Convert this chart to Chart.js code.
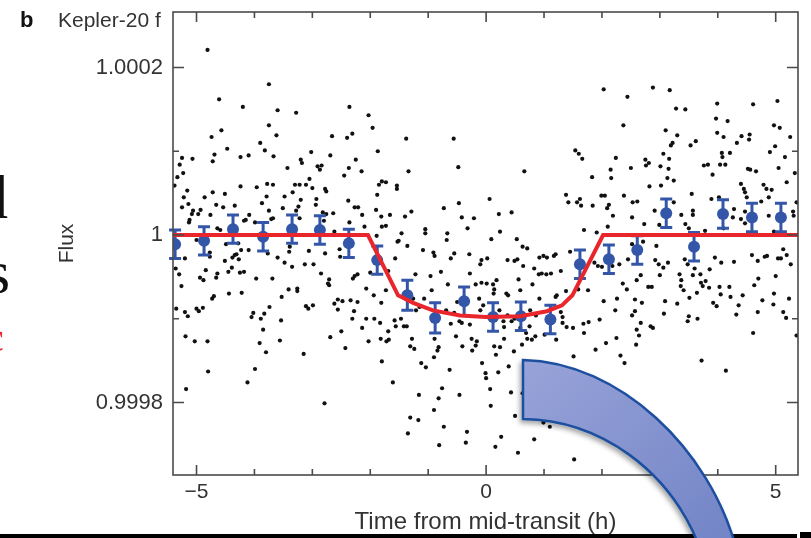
<!DOCTYPE html>
<html>
<head>
<meta charset="utf-8">
<title>Kepler-20 f</title>
<script src="https://cdn.jsdelivr.net/npm/chart.js@4.4.1/dist/chart.umd.min.js"></script>
<style>
  html, body { margin: 0; padding: 0; background: #fff; }
  #wrap { position: relative; width: 811px; height: 538px; overflow: hidden; }
  #chart { position: absolute; left: 0; top: 0; }
  .frag { position: absolute; font-family: "Liberation Serif", "DejaVu Serif", serif; font-size: 62px; line-height: 62px; color: #111; }
  #bar1 { position: absolute; left: 0; top: 534px; width: 797px; height: 4px; background: #000; }
  #bar2 { position: absolute; left: 800px; top: 532px; width: 11px; height: 6px; background: #000; }
  #arrow { position: absolute; left: 0; top: 0; pointer-events: none; }
</style>
</head>
<body>
<div id="wrap">
  <canvas id="chart" width="811" height="538"></canvas>
  <span class="frag" style="left:-23px; top:166px;">d</span>
  <span class="frag" style="left:-14px; top:241px;">s</span>
  <span class="frag" style="left:-14px; top:318px; color:#e8262b; font-size:40px; line-height:40px;">c</span>
  <div id="bar1"></div>
  <div id="bar2"></div>
  <svg id="arrow" width="811" height="538">
    <defs>
      <linearGradient id="arrowFill" x1="0" y1="0" x2="1" y2="1">
        <stop offset="0" stop-color="#98a3d8"/>
        <stop offset="1" stop-color="#7183c6"/>
      </linearGradient>
      <filter id="shadow" x="-10%" y="-10%" width="130%" height="130%">
        <feDropShadow dx="-2" dy="3" stdDeviation="2.5" flood-color="#000" flood-opacity="0.35"/>
      </filter>
    </defs>
    <path d="M523,360 C620,362 710,450 736,548 L700,548 C670,470 600,420 523,419 Z"
          fill="url(#arrowFill)" stroke="#1d4f9f" stroke-width="2.5" filter="url(#shadow)"/>
  </svg>
</div>
<script>
// time from mid-transit (h) and flux offset from 1 (ppm)
const binTime = [-5.37, -4.87, -4.37, -3.85, -3.35, -2.87, -2.37, -1.88, -1.36, -0.88, -0.38,
  0.12, 0.60, 1.11, 1.62, 2.12, 2.61, 3.11, 3.59, 4.09, 4.59, 5.09];
const binFlux = [-11, -7, 7, -2, 7, 6, -10, -30, -72, -99, -79,
  -98, -97, -101, -35, -29, -18, 26, -14, 25, 21, 21];
const binErr = [17, 17, 17, 17, 17, 17, 17, 17, 18, 18, 17,
  17, 17, 17, 17, 17, 17, 17, 17, 17, 17, 17];

const modelTime = [-5.41, -2.04, -1.52, -1.26, -0.92, -0.45, 0, 0.59, 1.05, 1.31, 1.49, 2.02, 5.39];
const modelFlux = [0, 0, -72, -81, -90, -96, -98, -97, -91, -84, -72, 0, 0];

const xMajor = [-5, 0, 5];
const xMinor = [-5, -4, -3, -2, -1, 0, 1, 2, 3, 4, 5];
const yMajor = [200, 0, -200];
const yMinor = [200, 100, 0, -100, -200];

// individual measurements [h, ppm]
const dotPoints = [
  [-4.81,221],[-3.75,180],[-4.61,162],[-4.20,153],[-3.60,149],[-3.28,146],[-2.36,153],[-2.03,143],[-1.96,128],[-3.75,131],
  [-4.57,125],[-4.74,117],[-3.62,119],[-2.40,116],[-2.31,121],[-2.66,118],[-3.90,110],[-4.47,103],[-3.82,101],[-3.02,99],
  [-1.87,100],[-4.69,96],[-4.72,88],[-4.24,93],[-4.10,95],[-3.67,94],[-5.25,92],[-5.07,91],[-5.29,84],[-5.23,74],
  [-5.33,69],[-3.20,90],[-3.18,86],[-3.43,80],[-2.91,82],[-2.84,83],[-2.87,78],[-2.69,95],[-2.25,90],[-2.37,80],
  [-2.45,71],[-2.15,76],[-3.05,67],[-5.38,59],[-5.16,53],[-5.22,45],[-5.14,37],[-5.25,33],[-5.06,29],[-4.93,30],
  [-5.08,25],[-4.97,25],[-5.12,18],[-5.13,15],[-4.86,45],[-4.72,51],[-4.51,49],[-4.66,36],[-4.54,33],[-4.76,24],
  [-4.34,35],[-4.24,58],[-3.96,57],[-3.78,61],[-3.68,60],[-3.79,46],[-3.87,38],[-3.75,29],[-3.68,20],[-3.71,19],
  [-4.15,18],[-4.18,17],[-4.09,24],[-3.99,15],[-3.48,46],[-3.34,51],[-3.30,60],[-3.22,60],[-3.11,60],[-3.00,56],
  [-3.20,42],[-3.24,34],[-3.28,29],[-3.51,32],[-3.22,20],[-2.94,36],[-2.93,43],[-2.78,55],[-2.76,52],[-2.82,27],
  [-2.76,25],[-2.80,17],[-2.64,26],[-2.38,41],[-2.27,33],[-2.21,33],[-2.14,24],[-1.85,60],[-1.80,64],[-1.88,48],
  [-1.90,30],[-1.81,22],[-2.10,10],[-4.64,8],[-4.59,6],[-2.62,4],[-1.89,-1],[-5.00,-6],[-2.36,15],
  [-5.20,-28],[-5.36,-40],[-5.30,-47],[-5.26,-61],[-5.35,-88],[-5.20,-92],[-5.15,-97],[-5.19,-121],[-5.03,-127],[-4.81,-127],
  [-5.18,-184],[-4.80,-163],[-5.00,-88],[-4.96,-91],[-4.89,-87],[-4.94,-51],[-4.88,-54],[-4.84,-42],[-4.77,-21],[-4.77,-26],
  [-4.66,-51],[-4.64,-46],[-4.73,-76],[-4.70,-73],[-4.51,-31],[-4.45,-44],[-4.39,-39],[-4.44,-70],[-4.38,-27],[-4.34,-24],
  [-4.31,-23],[-4.27,-29],[-4.25,-45],[-4.18,-44],[-4.22,-69],[-4.23,-18],[-4.10,-18],[-4.49,-11],[-4.28,-10],[-3.97,-52],
  [-4.05,-98],[-4.02,-93],[-3.89,-100],[-3.83,-94],[-3.74,-86],[-3.85,-113],[-3.91,-129],[-3.80,-140],[-3.99,-160],[-4.12,-176],
  [-3.69,-52],[-3.77,-22],[-3.60,-27],[-3.48,-33],[-3.35,-38],[-3.41,-65],[-3.26,-64],[-3.26,-67],[-3.53,-74],[-3.54,-102],
  [-3.56,-126],[-3.40,-20],[-3.39,-14],[-3.13,-35],[-3.06,-19],[-2.98,-35],[-3.11,-85],[-3.07,-88],[-2.99,-84],[-3.15,-142],
  [-2.85,-46],[-2.78,-22],[-2.73,-58],[-2.71,-53],[-2.71,-60],[-2.62,-82],[-2.56,-77],[-2.56,-89],[-2.48,-79],[-2.50,-115],
  [-2.69,-122],[-2.43,-135],[-2.31,-100],[-2.28,-91],[-2.34,-78],[-2.22,-80],[-2.30,-52],[-2.27,-49],[-2.22,-47],[-2.53,-17],
  [-2.52,-26],[-2.07,-64],[-2.07,-100],[-2.14,-111],[-2.03,-127],[-1.93,-100],[-1.94,-72],[-1.83,-105],[-1.81,-81],[-1.82,-124],
  [-1.80,-151],[-2.00,-45],[-2.79,-201],
  [-1.53,-8],[-1.36,-13],[-1.09,-18],[-0.91,-21],[-0.89,-25],[-0.61,-28],[-0.55,-22],[-0.29,-23],[-0.10,-35],[-0.08,-30],
  [0.02,-28],[0.37,-30],[0.49,-31],[0.54,-29],[0.63,-14],[0.71,-16],[0.64,-37],[0.92,-27],[0.99,-25],[1.05,-27],
  [1.17,-25],[1.20,-23],[1.45,-20],[-1.57,-28],[-1.69,-43],[-1.73,-66],[-1.22,-47],[-0.96,-49],[-0.78,-44],[-0.66,-59],
  [-0.28,-46],[-0.18,-59],[-0.08,-57],[0.01,-58],[0.12,-59],[0.18,-54],[0.14,-65],[0.13,-70],[0.35,-70],[0.38,-72],
  [0.56,-53],[0.59,-66],[0.83,-40],[0.91,-47],[0.96,-46],[1.04,-47],[1.12,-46],[1.29,-43],[0.80,-59],[0.92,-76],
  [1.22,-72],[1.20,-74],[1.38,-67],[1.59,-65],[-0.12,-76],[-0.94,-66],[-1.26,-76],[-1.07,-76],[-1.21,-90],[-1.15,-86],
  [-0.69,-90],[-0.61,-106],[-0.55,-93],[-0.46,-103],[-0.42,-105],[-0.28,-107],[-0.50,-80],[-0.10,-90],[-0.05,-84],[0.23,-90],
  [0.30,-103],[0.31,-110],[0.37,-96],[0.44,-103],[0.49,-100],[0.76,-90],[0.86,-96],[0.75,-109],[0.59,-111],[0.69,-117],
  [0.85,-121],[0.79,-125],[1.29,-92],[1.32,-98],[1.32,-105],[1.39,-110],[1.50,-111],[1.68,-106],[1.77,-104],[1.69,-117],
  [1.21,-125],[1.01,-119],[-1.69,-115],[-1.58,-102],[-1.47,-100],[-1.56,-109],[-1.42,-109],[-1.37,-109],[-1.68,-125],[-1.72,-127],
  [-1.28,-124],[-1.31,-133],[-1.24,-136],[-0.89,-124],[-0.82,-134],[-0.84,-138],[-0.90,-146],[-1.12,-153],[-1.04,-158],[-0.63,-161],
  [-0.52,-121],[-0.41,-133],[-0.25,-124],[-0.24,-138],[-0.16,-127],[-0.18,-132],[-0.07,-153],[-0.01,-165],[0.00,-171],[0.14,-133],
  [0.24,-134],[0.31,-124],[0.17,-143],[0.21,-164],[0.39,-157],[0.48,-139],[0.71,-124],[0.62,-131],[1.51,-145],[-1.61,-176],
  [-1.16,-191],[-0.76,-183],[-0.82,-195],[-0.46,-191],[-0.90,-209],[0.07,-184],[0.43,-188],[0.08,-204],[-1.31,-218],[-1.17,-221],
  [-1.35,-237],[-0.73,-229],[-0.33,-235],[-0.35,-248],[-0.81,-251],[0.26,-241],[0.16,-253],[0.50,-216],[0.83,-244],[0.55,-260],
  [0.99,-224],[1.10,-229],[1.52,-268],[0.63,-189],
  [-1.38,115],[-0.56,115],[-0.48,81],[-1.34,76],[0.66,76],[1.54,101],[1.60,97],[1.66,91],[-1.73,63],[-1.54,59],
  [-1.54,55],[0.06,43],[-0.47,38],[1.38,48],[1.42,39],[1.57,39],[1.62,43],[1.64,35],[-1.66,24],[-1.40,22],
  [-1.29,28],[-0.73,32],[-0.42,21],[-0.21,20],[0.22,25],[0.44,27],[-1.80,10],[-1.73,11],[-1.46,2],[-1.05,7],
  [-1.05,2],[-0.67,2],[-0.68,-6],[-0.32,8],[0.24,4],[-1.51,-7],[0.09,-5],[0.53,-5],[1.69,6],
  [2.03,174],[2.44,165],[2.88,176],[3.17,173],[3.28,151],[3.44,150],[2.37,131],[3.10,125],[3.30,119],[3.22,110],
  [3.19,107],[3.53,107],[3.62,112],[3.99,157],[3.97,139],[4.17,136],[3.99,122],[4.10,117],[4.61,156],[5.03,160],
  [4.97,131],[5.07,128],[5.25,117],[4.55,120],[4.54,114],[4.41,118],[4.33,110],[4.07,98],[4.08,93],[4.21,98],
  [4.04,84],[4.13,84],[3.91,72],[3.76,83],[3.83,84],[2.24,92],[2.75,90],[2.81,86],[2.76,83],[2.50,80],
  [2.15,78],[2.16,68],[1.83,69],[3.01,82],[3.16,91],[3.06,97],[3.15,79],[3.13,68],[3.24,65],[3.02,59],
  [2.82,58],[3.55,49],[4.52,79],[4.56,78],[4.66,76],[4.99,106],[4.90,99],[5.16,93],[5.05,80],[5.33,74],
  [5.19,63],[4.40,61],[4.45,55],[4.47,51],[4.50,45],[4.79,60],[4.84,55],[4.93,54],[4.88,45],[4.75,40],
  [4.88,23],[5.30,28],[5.36,39],[5.31,23],[1.99,47],[2.05,47],[1.84,35],[2.38,47],[2.12,36],[2.09,32],
  [2.19,23],[2.53,39],[2.61,40],[2.52,21],[2.10,10],[1.91,3],[2.73,13],[2.91,29],[2.99,12],[3.24,39],
  [3.37,24],[3.57,29],[3.57,24],[3.44,13],[3.50,8],[3.89,43],[4.02,45],[3.78,5],[4.28,31],[4.26,21],
  [4.40,19],[4.47,14],[4.10,8],[4.47,28],[4.97,4],
  [2.52,-11],[2.71,-8],[2.94,-13],[2.92,-30],[2.98,-35],[3.06,-39],[3.14,-33],[3.43,-29],[3.48,-35],[3.95,-27],
  [4.06,-33],[4.28,-32],[4.59,-24],[4.69,-31],[4.81,-26],[4.85,-25],[5.04,-28],[5.09,-28],[5.19,-24],[5.13,-17],
  [5.26,-35],[1.87,-33],[1.93,-37],[2.00,-38],[2.18,-37],[2.30,-35],[2.45,-29],[2.67,-48],[2.60,-54],[2.36,-58],
  [2.43,-65],[2.80,-62],[2.86,-62],[3.00,-48],[3.34,-47],[3.37,-54],[3.36,-61],[3.41,-66],[3.57,-48],[3.60,-40],
  [3.70,-47],[3.74,-61],[3.71,-57],[3.79,-55],[3.85,-63],[3.64,-69],[3.51,-75],[3.86,-41],[4.03,-62],[4.05,-71],
  [4.20,-62],[4.22,-74],[3.92,-81],[3.98,-85],[4.43,-72],[4.36,-84],[4.32,-95],[4.70,-52],[4.63,-60],[4.77,-78],
  [4.97,-70],[4.96,-83],[5.00,-49],[5.23,-76],[4.69,-92],[5.13,-92],[5.18,-99],[5.36,-120],[4.61,-117],[1.76,-66],
  [2.03,-79],[2.26,-76],[2.23,-90],[2.57,-77],[2.69,-81],[3.09,-79],[3.07,-94],[3.30,-82],[2.57,-91],[2.52,-96],
  [2.67,-105],[2.84,-109],[2.88,-111],[2.60,-113],[2.64,-120],[2.59,-131],[2.25,-123],[2.07,-129],[1.89,-137],[2.32,-144],
  [2.39,-153],[1.96,-101],[3.50,-97],[3.48,-103],[3.65,-100],[3.72,-150],[4.14,-162]
];

const textColor = '#333';
const frameColor = '#4a4a4a';
const binColor = '#3456a8';
const modelColor = '#e8262b';
const sans = '"Liberation Sans", Arial, sans-serif';

// error bars go on after the raw dots, under the binned markers
const errorBars = {
  id: 'errorBars',
  afterDatasetDraw(chart, args) {
    if (args.index !== 0) return;
    const { ctx, scales: { x, y } } = chart;
    ctx.save();
    ctx.strokeStyle = binColor;
    ctx.lineWidth = 3;
    binTime.forEach((t, i) => {
      const px = x.getPixelForValue(t);
      const top = y.getPixelForValue(binFlux[i] + binErr[i]);
      const bot = y.getPixelForValue(binFlux[i] - binErr[i]);
      ctx.beginPath();
      ctx.moveTo(px, top);
      ctx.lineTo(px, bot);
      ctx.moveTo(px - 6, top);
      ctx.lineTo(px + 6, top);
      ctx.moveTo(px - 6, bot);
      ctx.lineTo(px + 6, bot);
      ctx.stroke();
    });
    ctx.restore();
  }
};

// box frame with inward ticks on all four sides, plus the panel header
const frame = {
  id: 'frame',
  afterDatasetsDraw(chart) {
    const { ctx, chartArea: a, scales: { x, y } } = chart;
    ctx.save();
    ctx.strokeStyle = frameColor;
    ctx.lineWidth = 1.6;
    ctx.strokeRect(a.left, a.top, a.right - a.left, a.bottom - a.top);
    ctx.beginPath();
    xMinor.forEach((v) => {
      const px = x.getPixelForValue(v);
      const len = xMajor.includes(v) ? 10 : 6;
      ctx.moveTo(px, a.bottom);
      ctx.lineTo(px, a.bottom - len);
      ctx.moveTo(px, a.top);
      ctx.lineTo(px, a.top + len);
    });
    yMinor.forEach((v) => {
      const py = y.getPixelForValue(v);
      const len = yMajor.includes(v) ? 11 : 6;
      ctx.moveTo(a.left, py);
      ctx.lineTo(a.left + len, py);
      ctx.moveTo(a.right, py);
      ctx.lineTo(a.right - len, py);
    });
    ctx.stroke();

    ctx.fillStyle = '#111';
    ctx.textBaseline = 'alphabetic';
    ctx.textAlign = 'left';
    ctx.font = 'bold 22px ' + sans;
    ctx.fillText('b', 20, 27);
    ctx.fillStyle = textColor;
    ctx.font = '21px ' + sans;
    ctx.fillText('Kepler-20 f', 58, 27);
    ctx.restore();
  }
};

const fluxLabel = (v) => (v === 0 ? '1' : (1 + v * 1e-6).toFixed(4));
const timeLabel = (v) => (v < 0 ? '\u2212' + Math.abs(v) : String(v));

new Chart(document.getElementById('chart'), {
  data: {
    datasets: [
      {
        type: 'scatter',
        data: dotPoints.map(([t, f]) => ({ x: t, y: f })),
        pointRadius: 2.1,
        pointBackgroundColor: '#111',
        pointBorderWidth: 0,
        order: 3
      },
      {
        type: 'scatter',
        data: binTime.map((t, i) => ({ x: t, y: binFlux[i] })),
        pointRadius: 6,
        pointBackgroundColor: binColor,
        pointBorderWidth: 0,
        order: 2
      },
      {
        type: 'line',
        data: modelTime.map((t, i) => ({ x: t, y: modelFlux[i] })),
        borderColor: modelColor,
        borderWidth: 4,
        pointRadius: 0,
        tension: 0,
        fill: false,
        order: 1
      }
    ]
  },
  options: {
    responsive: false,
    animation: false,
    devicePixelRatio: 1,
    layout: { padding: { left: 0, right: 13, top: 12, bottom: 0 } },
    plugins: { legend: { display: false }, tooltip: { enabled: false } },
    scales: {
      x: {
        type: 'linear',
        min: -5.406,
        max: 5.385,
        afterBuildTicks: (s) => { s.ticks = xMajor.map((v) => ({ value: v })); },
        afterFit: (s) => { s.height = 63; s.paddingLeft = 0; s.paddingRight = 0; },
        grid: { display: false, drawTicks: false },
        border: { display: false },
        ticks: {
          color: textColor,
          font: { family: sans, size: 21 },
          padding: 5,
          maxRotation: 0,
          callback: timeLabel
        },
        title: {
          display: true,
          text: 'Time from mid-transit (h)',
          color: textColor,
          font: { family: sans, size: 24 },
          padding: { top: 0, bottom: 1 }
        }
      },
      y: {
        type: 'linear',
        min: -286.6,
        max: 266.3,
        afterBuildTicks: (s) => { s.ticks = yMajor.map((v) => ({ value: v })); },
        afterFit: (s) => { s.width = 173; s.paddingTop = 0; s.paddingBottom = 0; },
        grid: { display: false, drawTicks: false },
        border: { display: false },
        ticks: {
          color: textColor,
          font: { family: sans, size: 22 },
          padding: 10,
          callback: fluxLabel
        },
        title: {
          display: true,
          text: 'Flux',
          color: textColor,
          font: { family: sans, size: 21 },
          padding: { top: 55, bottom: 0 }
        }
      }
    }
  },
  plugins: [errorBars, frame]
});
</script>
</body>
</html>
